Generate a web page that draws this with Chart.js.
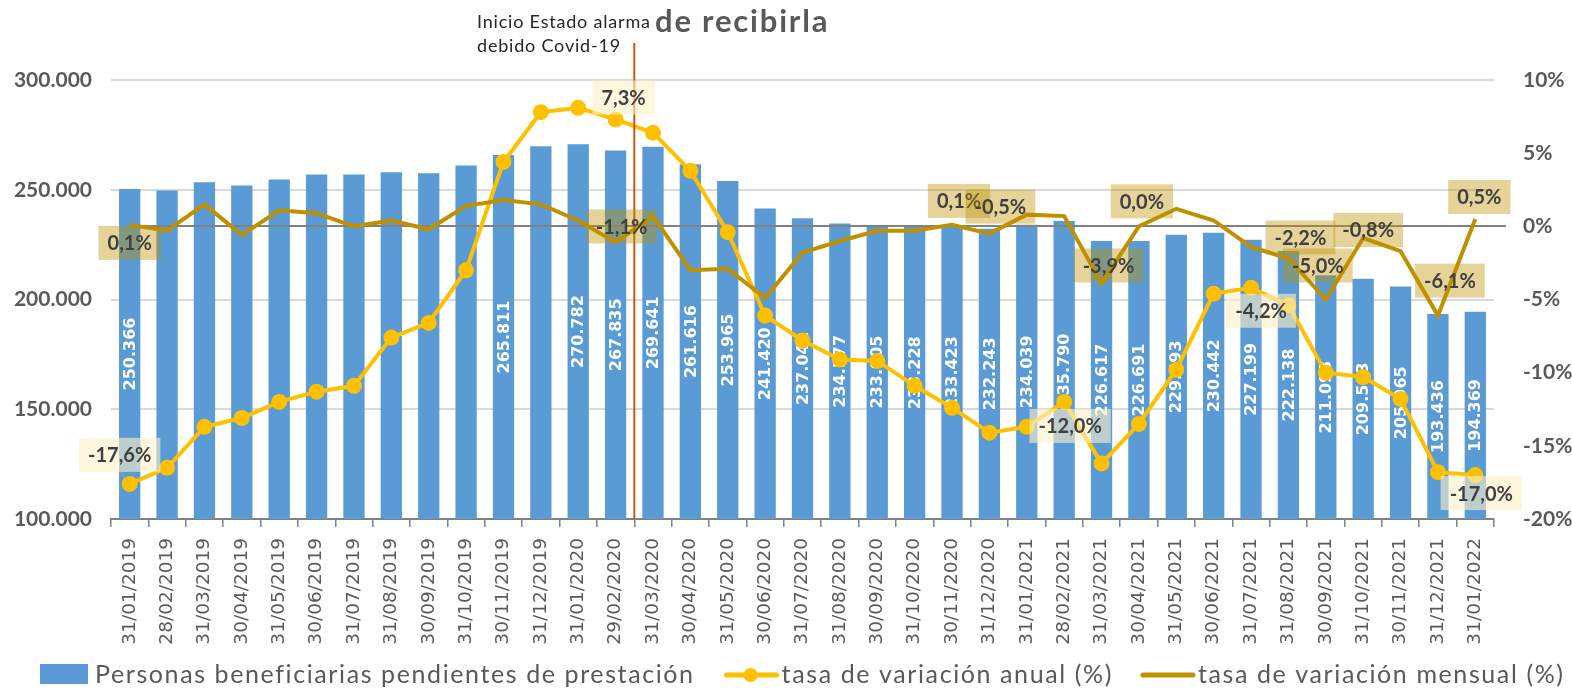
<!DOCTYPE html>
<html lang="es">
<head>
<meta charset="utf-8">
<script src="https://cdn.jsdelivr.net/npm/chart.js@4.4.1/dist/chart.umd.min.js"></script>
<style>
  html, body { margin: 0; padding: 0; background: #fff; }
  #caja { width: 1572px; height: 690px; position: relative; }
</style>
</head>
<body>
<div id="caja"><canvas id="grafico"></canvas></div>
<script>
const fechas = [
    "31/01/2019", "28/02/2019", "31/03/2019", "30/04/2019", "31/05/2019", "30/06/2019",
    "31/07/2019", "31/08/2019", "30/09/2019", "31/10/2019", "30/11/2019", "31/12/2019",
    "31/01/2020", "29/02/2020", "31/03/2020", "30/04/2020", "31/05/2020", "30/06/2020",
    "31/07/2020", "31/08/2020", "30/09/2020", "31/10/2020", "30/11/2020", "31/12/2020",
    "31/01/2021", "28/02/2021", "31/03/2021", "30/04/2021", "31/05/2021", "30/06/2021",
    "31/07/2021", "31/08/2021", "30/09/2021", "31/10/2021", "30/11/2021", "31/12/2021",
    "31/01/2022"
];

// personas beneficiarias pendientes de prestación
const pendientes = [
    250366, 249650, 253400, 251900, 254700, 257000, 257000, 258000, 257500, 261100,
    265811, 269800, 270782, 267835, 269641, 261616, 253965, 241420, 237041, 234577,
    233905, 233228, 233423, 232243, 234039, 235790, 226617, 226691, 229493, 230442,
    227199, 222138, 211093, 209503, 205965, 193436, 194369
];

// tasa de variación anual (%)
const tasaAnual = [
    -17.6, -16.5, -13.7, -13.1, -12.0, -11.3, -10.9, -7.6, -6.6, -3.0,
    4.4, 7.8, 8.1, 7.3, 6.4, 3.8, -0.4, -6.1, -7.8, -9.1,
    -9.2, -10.9, -12.4, -14.1, -13.7, -12.0, -16.2, -13.5, -9.8, -4.6,
    -4.2, -5.4, -10.0, -10.3, -11.8, -16.8, -17.0
];

// tasa de variación mensual (%)
const tasaMensual = [
    0.1, -0.3, 1.5, -0.6, 1.1, 0.9, 0.0, 0.4, -0.2, 1.4,
    1.8, 1.5, 0.4, -1.1, 0.7, -3.0, -2.9, -4.9, -1.8, -1.0,
    -0.3, -0.3, 0.1, -0.5, 0.8, 0.7, -3.9, 0.0, 1.2, 0.4,
    -1.4, -2.2, -5.0, -0.8, -1.7, -6.1, 0.5
];

// barras sin etiqueta en el original
const barrasSinEtiqueta = [1, 2, 3, 4, 5, 6, 7, 8, 9, 11];

const ticksIzq = [100000, 150000, 200000, 250000, 300000];
const ticksDer = [-20, -15, -10, -5, 0, 5, 10];

const GRIS = "#595959";
const FUENTE = "Lato, 'Open Sans', sans-serif";

function miles(v) {
    return String(v).replace(/\B(?=(\d{3})+(?!\d))/g, ".");
}
function porcentaje(v) {
    return v.toFixed(1).replace(".", ",") + "%";
}

// etiquetas de las lineas: indice y desplazamiento de la caja respecto al punto
const etiquetasAnual = [
    { i: 0, dx: -10, dy: -29 },
    { i: 13, dx: 8, dy: -22 },
    { i: 25, dx: 6, dy: 24 },
    { i: 30, dx: 10, dy: 23 },
    { i: 36, dx: 6, dy: 18 }
];
const etiquetasMensual = [
    { i: 0, dx: 0, dy: 18 },
    { i: 13, dx: 6, dy: -16 },
    { i: 22, dx: 7, dy: -24 },
    { i: 23, dx: 11, dy: -27 },
    { i: 26, dx: 7, dy: -18 },
    { i: 27, dx: 3, dy: -25 },
    { i: 31, dx: 12, dy: -21 },
    { i: 32, dx: -8, dy: -34 },
    { i: 33, dx: 5, dy: -8 },
    { i: 35, dx: 12, dy: -35 },
    { i: 36, dx: 4, dy: -22 }
];

const pluginBarras = {
    id: "pluginBarras",
    afterDatasetDraw(chart, args) {
        if (args.index !== 2) return;
        const ctx = chart.ctx;
        const area = chart.chartArea;
        const y2 = chart.scales.y2;
        const xs = chart.scales.x;

        // linea del 0% del eje secundario
        ctx.save();
        ctx.strokeStyle = "#808080";
        ctx.lineWidth = 2;
        ctx.beginPath();
        const y0 = Math.round(y2.getPixelForValue(0));
        ctx.moveTo(xs.getPixelForValue(0), y0);
        ctx.lineTo(area.right + 12, y0);
        ctx.stroke();
        ctx.restore();

        // etiquetas de las barras
        const meta = chart.getDatasetMeta(2);
        ctx.save();
        ctx.fillStyle = "#ffffff";
        ctx.font = "bold 16px 'DejaVu Sans'";
        ctx.textAlign = "center";
        ctx.textBaseline = "middle";
        meta.data.forEach((bar, i) => {
            if (barrasSinEtiqueta.includes(i)) return;
            const base = Math.min(bar.base, area.bottom);
            const yc = (bar.y + base) / 2;
            ctx.save();
            ctx.translate(bar.x, yc);
            ctx.rotate(-Math.PI / 2);
            ctx.fillText(miles(pendientes[i]), 0, 1);
            ctx.restore();
        });
        ctx.restore();
    }
};

function cajaEtiqueta(ctx, x, y, texto, fondo) {
    ctx.font = "bold 20px " + FUENTE;
    const w = ctx.measureText(texto).width + 18;
    const h = 34;
    ctx.fillStyle = fondo;
    ctx.fillRect(x - w / 2, y - h / 2, w, h);
    ctx.fillStyle = "#404040";
    ctx.textAlign = "center";
    ctx.textBaseline = "middle";
    ctx.fillText(texto, x, y + 1);
}

function lineaLeyenda(ctx, x, y, color, conPunto) {
    ctx.strokeStyle = color;
    ctx.lineWidth = 5;
    ctx.lineCap = "round";
    ctx.beginPath();
    ctx.moveTo(x + 2, y);
    ctx.lineTo(x + 52, y);
    ctx.stroke();
    if (conPunto) {
        ctx.fillStyle = color;
        ctx.beginPath();
        ctx.arc(x + 26, y, 7, 0, Math.PI * 2);
        ctx.fill();
    }
}

const pluginExtras = {
    id: "pluginExtras",
    afterDatasetsDraw(chart) {
        const ctx = chart.ctx;
        const area = chart.chartArea;
        const xs = chart.scales.x;
        const y2 = chart.scales.y2;

        // linea vertical: inicio estado de alarma
        const xa = (xs.getPixelForValue(13) + xs.getPixelForValue(14)) / 2;
        ctx.save();
        ctx.strokeStyle = "#C55A11";
        ctx.lineWidth = 2;
        ctx.beginPath();
        ctx.moveTo(xa, 43);
        ctx.lineTo(xa, area.bottom);
        ctx.stroke();

        // guia de la primera etiqueta anual
        const p0x = xs.getPixelForValue(0);
        const p0y = y2.getPixelForValue(tasaAnual[0]);
        ctx.strokeStyle = "#A6A6A6";
        ctx.lineWidth = 1;
        ctx.beginPath();
        ctx.moveTo(p0x - 9, p0y - 12);
        ctx.lineTo(p0x - 1, p0y - 2);
        ctx.stroke();

        // etiquetas de las lineas
        etiquetasAnual.forEach(e => {
            const px = xs.getPixelForValue(e.i);
            const py = y2.getPixelForValue(tasaAnual[e.i]);
            cajaEtiqueta(ctx, px + e.dx, py + e.dy, porcentaje(tasaAnual[e.i]), "rgba(255, 240, 200, 0.6)");
        });
        etiquetasMensual.forEach(e => {
            const px = xs.getPixelForValue(e.i);
            const py = y2.getPixelForValue(tasaMensual[e.i]);
            cajaEtiqueta(ctx, px + e.dx, py + e.dy, porcentaje(tasaMensual[e.i]), "rgba(191, 144, 0, 0.4)");
        });

        // textos superiores
        ctx.textAlign = "left";
        ctx.textBaseline = "alphabetic";
        ctx.fillStyle = "#262626";
        ctx.font = "18px " + FUENTE;
        ctx.letterSpacing = "0.8px";
        ctx.fillText("Inicio Estado alarma", 477, 28);
        ctx.fillText("debido Covid-19", 477, 52);
        ctx.fillStyle = GRIS;
        ctx.font = "bold 31px " + FUENTE;
        ctx.letterSpacing = "1.8px";
        ctx.fillText("de recibirla", 655, 32);

        // leyenda
        const yl = 675;
        ctx.font = "25px " + FUENTE;
        ctx.letterSpacing = "1.6px";
        ctx.textBaseline = "middle";
        ctx.fillStyle = "#5B9BD5";
        ctx.fillRect(40, yl - 11, 48, 20);
        let x = 95;
        let t = "Personas beneficiarias pendientes de prestación";
        ctx.fillStyle = GRIS;
        ctx.fillText(t, x, yl);
        x += ctx.measureText(t).width + 30;

        lineaLeyenda(ctx, x, yl, "#FFC000", true);
        x += 57;
        t = "tasa de variación anual (%)";
        ctx.fillStyle = GRIS;
        ctx.fillText(t, x, yl);
        x += ctx.measureText(t).width + 28;

        lineaLeyenda(ctx, x, yl, "#BF9000", false);
        x += 57;
        ctx.fillStyle = GRIS;
        ctx.fillText("tasa de variación mensual (%)", x, yl);
        ctx.restore();
    }
};

function crearGrafico() {
    const canvas = document.getElementById("grafico");

    new Chart(canvas, {
        data: {
            labels: fechas,
            datasets: [
                {
                    type: "line",
                    label: "tasa de variación anual (%)",
                    data: tasaAnual,
                    yAxisID: "y2",
                    borderColor: "#FFC000",
                    backgroundColor: "#FFC000",
                    borderWidth: 4,
                    pointRadius: 6,
                    pointHoverRadius: 6,
                    order: 1
                },
                {
                    type: "line",
                    label: "tasa de variación mensual (%)",
                    data: tasaMensual,
                    yAxisID: "y2",
                    borderColor: "#BF9000",
                    backgroundColor: "#BF9000",
                    borderWidth: 4,
                    pointRadius: 0,
                    order: 0
                },
                {
                    type: "bar",
                    label: "Personas beneficiarias pendientes de prestación",
                    data: pendientes,
                    yAxisID: "y",
                    backgroundColor: "#5B9BD5",
                    barPercentage: 0.57,
                    categoryPercentage: 1,
                    order: 2
                }
            ]
        },
        options: {
            responsive: true,
            maintainAspectRatio: false,
            animation: false,
            layout: { padding: { top: 80, bottom: 45, left: 0, right: 0 } },
            plugins: {
                legend: { display: false },
                tooltip: { enabled: false }
            },
            scales: {
                x: {
                    offset: true,
                    grid: {
                        offset: true,
                        drawOnChartArea: false,
                        drawTicks: true,
                        tickLength: 8,
                        color: "#808080",
                        lineWidth: 1.5
                    },
                    border: { color: "#808080", width: 2 },
                    ticks: {
                        autoSkip: false,
                        minRotation: 90,
                        maxRotation: 90,
                        padding: 11,
                        color: GRIS,
                        font: { family: "'DejaVu Sans'", size: 18.5 }
                    },
                    afterFit(scale) { scale.height = 126; }
                },
                y: {
                    position: "left",
                    min: 100000,
                    max: 300000,
                    afterBuildTicks(scale) { scale.ticks = ticksIzq.map(v => ({ value: v })); },
                    grid: {
                        color: ctx => ctx.tick && ctx.tick.value === 100000 ? "rgba(0,0,0,0)" : "#D9D9D9",
                        lineWidth: 2,
                        drawTicks: false
                    },
                    border: { display: false },
                    ticks: {
                        padding: 19,
                        color: GRIS,
                        font: { family: FUENTE, size: 21, weight: "bold" },
                        callback: v => miles(v)
                    },
                    afterFit(scale) { scale.width = 111; }
                },
                y2: {
                    position: "right",
                    min: -20,
                    max: 10,
                    afterBuildTicks(scale) { scale.ticks = ticksDer.map(v => ({ value: v })); },
                    grid: { display: false },
                    border: { display: false },
                    ticks: {
                        padding: 21,
                        color: GRIS,
                        font: { family: FUENTE, size: 21, weight: "bold" },
                        callback: v => v + "%"
                    },
                    afterFit(scale) { scale.width = 78; }
                }
            }
        },
        plugins: [pluginBarras, pluginExtras]
    });
}

window.onload = crearGrafico;
</script>
</body>
</html>
